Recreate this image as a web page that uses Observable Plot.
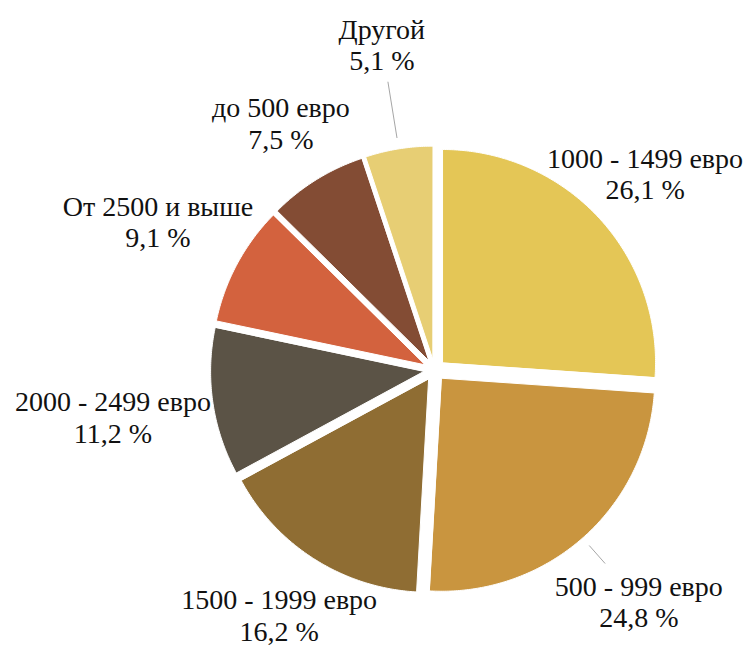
<!DOCTYPE html>
<html>
<head>
<meta charset="utf-8">
<script src="https://cdn.jsdelivr.net/npm/d3@7"></script>
<script src="https://cdn.jsdelivr.net/npm/@observablehq/plot@0.6"></script>
<style>
  body { margin: 0; background: #fff; }
  #chart svg { display: block; }
</style>
</head>
<body>
<div id="chart"></div>
<script>
// ---- data ----
const categories = ["1000 - 1499 евро", "500 - 999 евро", "1500 - 1999 евро", "2000 - 2499 евро", "От 2500 и выше", "до 500 евро", "Другой"];
const shares = [26.1, 24.8, 16.2, 11.2, 9.1, 7.5, 5.1];
const shareLabels = ["26,1 %", "24,8 %", "16,2 %", "11,2 %", "9,1 %", "7,5 %", "5,1 %"];
const colors = ["#E4C656", "#C9953F", "#8F6D33", "#5B5346", "#D3623E", "#834C34", "#E7CE74"];

// ---- layout ----
const W = 753, H = 647;
const layout = {
  cx: 434, cy: 369.5, r: 213, explode: 11,
  labelDist: [288, 309, 290, 325, 314, 291, 330],
  leader: [null, [234, 258], null, null, null, null, [235, 292]]
};

const arcs = d3.pie().sort(null).value(d => d)(shares);
const polar = (a, d) => [layout.cx + d * Math.sin(a), layout.cy - d * Math.cos(a)];

const slicePts = [];
arcs.forEach((a, i) => {
  const m = (a.startAngle + a.endAngle) / 2;
  const [ox, oy] = polar(m, layout.explode);
  slicePts.push({cat: categories[i], x: ox, y: oy});
  const n = Math.max(8, Math.ceil((a.endAngle - a.startAngle) / (Math.PI / 360)));
  for (let k = 0; k <= n; k++) {
    const t = a.startAngle + (a.endAngle - a.startAngle) * k / n;
    slicePts.push({cat: categories[i], x: ox + layout.r * Math.sin(t), y: oy - layout.r * Math.cos(t)});
  }
});

const labels = arcs.map((a, i) => {
  const m = (a.startAngle + a.endAngle) / 2;
  const [x, y] = polar(m, layout.labelDist[i]);
  return {x, y, text: categories[i] + "\n" + shareLabels[i]};
});

const leaders = arcs.map((a, i) => {
  if (!layout.leader[i]) return null;
  const m = (a.startAngle + a.endAngle) / 2;
  const [x1, y1] = polar(m, layout.leader[i][0]);
  const [x2, y2] = polar(m, layout.leader[i][1]);
  return {x1, y1, x2, y2};
}).filter(d => d);

const serif = "'Liberation Serif', 'Times New Roman', Times, 'DejaVu Serif', serif";

const chart = Plot.plot({
  width: W, height: H,
  margin: 0,
  x: {domain: [0, W], range: [0, W], axis: null},
  y: {domain: [0, H], range: [0, H], axis: null},
  color: {domain: categories, range: colors},
  style: {background: "#fff", fontFamily: serif},
  marks: [
    Plot.line(slicePts, {x: "x", y: "y", z: "cat", fill: "cat", stroke: "white", strokeWidth: 1, curve: "linear-closed"}),
    Plot.link(leaders, {x1: "x1", y1: "y1", x2: "x2", y2: "y2", stroke: "#a6a6a6", strokeWidth: 1}),
    Plot.text(labels, {x: "x", y: "y", text: "text", fontSize: 28, fontFamily: serif, lineHeight: 1.12, textAnchor: "middle", fill: "#111"})
  ]
});
document.getElementById("chart").appendChild(chart);
</script>
</body>
</html>
